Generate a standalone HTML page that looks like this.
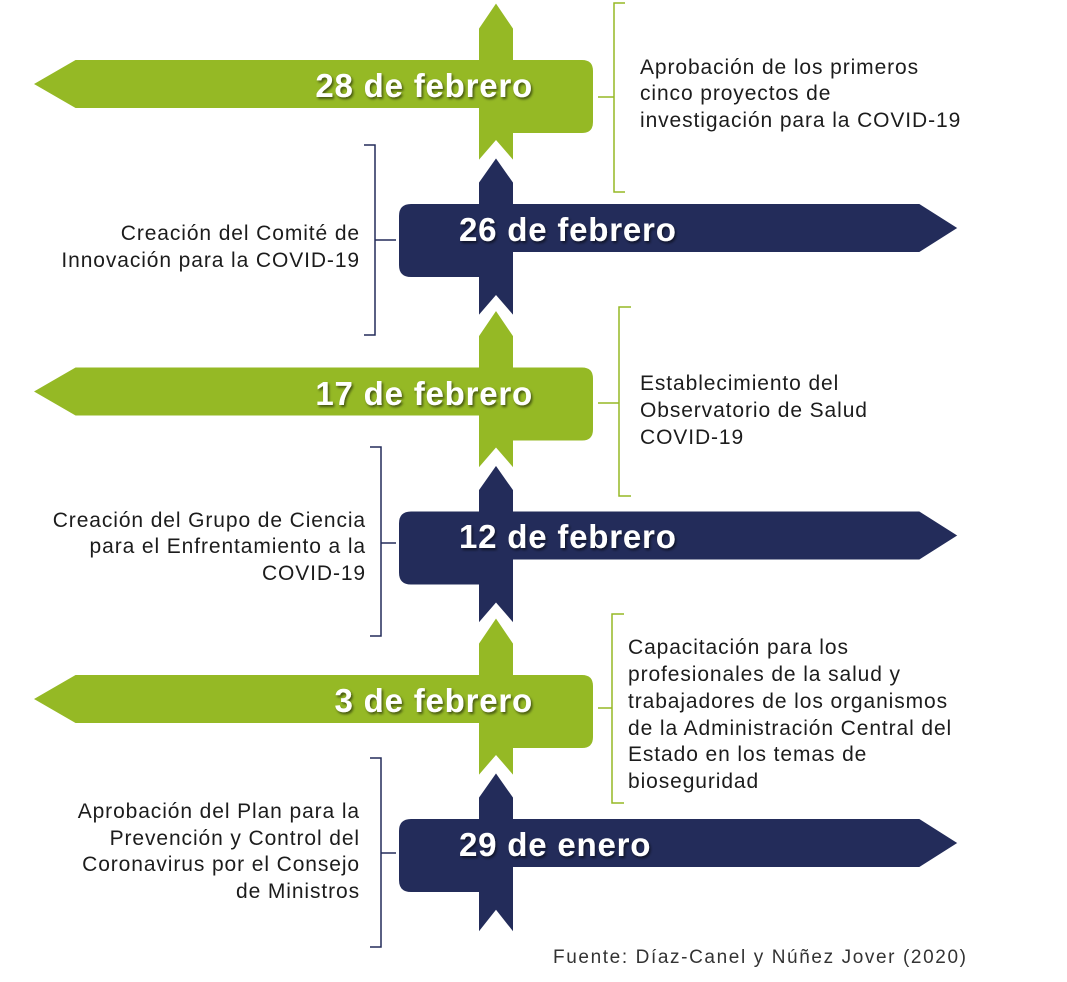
<!DOCTYPE html>
<html><head><meta charset="utf-8"><style>
html,body{margin:0;padding:0;background:#fff;}
svg{display:block;}
.d{font-family:"Liberation Sans",sans-serif;font-size:21px;letter-spacing:0.9px;fill:#1c1c1c;}
.t{font-family:"Liberation Sans",sans-serif;font-size:33px;letter-spacing:0.8px;font-weight:bold;fill:#fff;}
</style></head><body>
<svg width="1067" height="982" viewBox="0 0 1067 982" xmlns="http://www.w3.org/2000/svg">
<defs>
<filter id="sh" x="-10%" y="-20%" width="120%" height="150%"><feDropShadow dx="1.5" dy="2" stdDeviation="1.2" flood-color="#000" flood-opacity="0.55"/></filter>
<path id="g" d="M496,0 L515,28 L515,58 L582,58 Q595,58 595,71 L595,122 Q595,135 582,135 L515,135 L515,165 L496,143 L477,165 L477,110 L75,110 L30,84 L75,58 L477,58 L477,28 Z" fill="#95b925" stroke="#fff" stroke-width="4" stroke-linejoin="miter"/>
<path id="n" d="M496,155 L515,182 L515,202 L920,202 L961,228 L920,254 L515,254 L515,320 L496,298 L477,320 L477,279 L411,279 Q397,279 397,265 L397,216 Q397,202 411,202 L477,202 L477,182 Z" fill="#232c5a" stroke="#fff" stroke-width="4" stroke-linejoin="miter"/>
</defs>
<use href="#g"/>
<use href="#n"/>
<use href="#g" transform="translate(0,307.5)"/>
<use href="#n" transform="translate(0,307.5)"/>
<use href="#g" transform="translate(0,615)"/>
<path d="M496,770 L515,797 L515,817 L920,817 L961,843 L920,869 L515,869 L515,937 L496,913 L477,937 L477,894 L411,894 Q397,894 397,880 L397,831 Q397,817 411,817 L477,817 L477,797 Z" fill="#232c5a" stroke="#fff" stroke-width="4"/>

<g class="t" filter="url(#sh)" text-anchor="end">
<text x="533" y="97">28 de febrero</text>
<text x="533" y="405">17 de febrero</text>
<text x="533" y="712">3 de febrero</text>
</g>
<g class="t" filter="url(#sh)">
<text x="459" y="241">26 de febrero</text>
<text x="459" y="548">12 de febrero</text>
<text x="459" y="856">29 de enero</text>
</g>

<g fill="none" stroke="#95b925" stroke-width="1.5">
<path d="M625,3 L614,3 L614,192 L625,192 M598,97 L614,97"/>
<path d="M631,307 L619,307 L619,496 L631,496 M598,403 L619,403"/>
<path d="M624,614 L612,614 L612,803 L624,803 M598,708 L612,708"/>
</g>
<g fill="none" stroke="#232c5a" stroke-width="1.5">
<path d="M364,145 L375,145 L375,335 L364,335 M375,240 L396,240"/>
<path d="M370,447 L381,447 L381,636 L370,636 M381,543 L396,543"/>
<path d="M370,758 L381,758 L381,947 L370,947 M381,853 L396,853"/>
</g>

<g class="d">
<text x="640" y="74">Aprobación de los primeros</text>
<text x="640" y="100">cinco proyectos de</text>
<text x="640" y="127">investigación para la COVID-19</text>
<text x="640" y="390">Establecimiento del</text>
<text x="640" y="417">Observatorio de Salud</text>
<text x="640" y="444">COVID-19</text>
<text x="628" y="654">Capacitación para los</text>
<text x="628" y="681">profesionales de la salud y</text>
<text x="628" y="708">trabajadores de los organismos</text>
<text x="628" y="735">de la Administración Central del</text>
<text x="628" y="761">Estado en los temas de</text>
<text x="628" y="788">bioseguridad</text>
</g>
<g class="d" text-anchor="end">
<text x="360" y="240">Creación del Comité de</text>
<text x="360" y="267">Innovación para la COVID-19</text>
<text x="366" y="527">Creación del Grupo de Ciencia</text>
<text x="366" y="553">para el Enfrentamiento a la</text>
<text x="366" y="580">COVID-19</text>
<text x="360" y="818">Aprobación del Plan para la</text>
<text x="360" y="845">Prevención y Control del</text>
<text x="360" y="871">Coronavirus por el Consejo</text>
<text x="360" y="898">de Ministros</text>
</g>
<text x="553" y="963" font-family="Liberation Sans, sans-serif" font-size="19" fill="#333" textLength="413" lengthAdjust="spacing">Fuente: Díaz-Canel  y Núñez Jover (2020)</text>
</svg>
</body></html>
